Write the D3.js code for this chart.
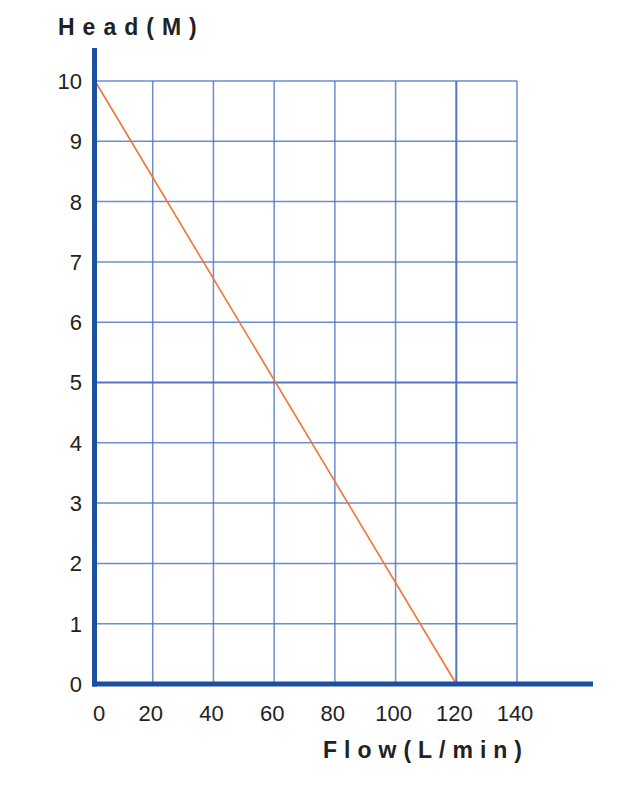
<!DOCTYPE html>
<html>
<head>
<meta charset="utf-8">
<script src="https://cdn.jsdelivr.net/npm/d3@7"></script>
<style>
  body { margin: 0; background: #fff; }
  text { font-family: "Liberation Sans", Arial, sans-serif; fill: #222; }
</style>
</head>
<body>
<div id="chart"></div>
<script>
// Pump curve data
const flowValues = [0, 120];
const headValues = [10, 0];
const xTicks = [0, 20, 40, 60, 80, 100, 120, 140];
const yTicks = [0, 1, 2, 3, 4, 5, 6, 7, 8, 9, 10];
const xTitle = "Flow(L/min)";
const yTitle = "Head(M)";

const width = 638, height = 793;

const svg = d3.select("#chart")
    .append("svg")
    .attr("width", width)
    .attr("height", height);

// Scales
const x = d3.scaleLinear().domain([0, 140]).range([92, 517]);
const y = d3.scaleLinear().domain([0, 10]).range([684, 81]);

// Grid lines
svg.selectAll(".hgrid")
    .data(yTicks.filter(d => d > 0))
    .join("line")
    .attr("class", "hgrid")
    .attr("x1", x(0))
    .attr("x2", x(140))
    .attr("y1", d => y(d))
    .attr("y2", d => y(d))
    .attr("stroke", "#4670c4")
    .attr("stroke-opacity", d => d === 5 ? 0.95 : 0.8)
    .attr("stroke-width", d => d === 5 ? 2 : 1.5);

svg.selectAll(".vgrid")
    .data(xTicks.filter(d => d > 0))
    .join("line")
    .attr("class", "vgrid")
    .attr("x1", d => x(d))
    .attr("x2", d => x(d))
    .attr("y1", y(0))
    .attr("y2", y(10))
    .attr("stroke", "#4670c4")
    .attr("stroke-opacity", d => d === 120 ? 0.95 : 0.8)
    .attr("stroke-width", d => d === 120 ? 2 : 1.5);

// Curve
const line = d3.line()
    .x(d => x(d[0]) + (d[0] === 0 ? 3 : 0))
    .y(d => y(d[1]));

svg.append("path")
    .datum(flowValues.map((f, i) => [f, headValues[i]]))
    .attr("d", line)
    .attr("fill", "none")
    .attr("stroke", "#f37434")
    .attr("stroke-width", 1.6);

// Axis lines
svg.append("line")
    .attr("x1", x(0) + 2.5)
    .attr("x2", x(0) + 2.5)
    .attr("y1", 48)
    .attr("y2", y(0) + 2.5)
    .attr("stroke", "#1c4f9e")
    .attr("stroke-width", 5);

svg.append("line")
    .attr("x1", x(0))
    .attr("x2", 593)
    .attr("y1", y(0))
    .attr("y2", y(0))
    .attr("stroke", "#1c4f9e")
    .attr("stroke-width", 5);

// Tick labels
svg.selectAll(".ylab")
    .data(yTicks)
    .join("text")
    .attr("class", "ylab")
    .attr("x", 82)
    .attr("y", d => y(d))
    .attr("dy", "0.36em")
    .attr("text-anchor", "end")
    .attr("font-size", 22)
    .text(d => d);

svg.selectAll(".xlab")
    .data(xTicks)
    .join("text")
    .attr("class", "xlab")
    .attr("x", d => x(d) + (d === 0 ? 7 : -2))
    .attr("y", 721)
    .attr("text-anchor", "middle")
    .attr("font-size", 22)
    .text(d => d);

// Titles
svg.append("text")
    .attr("x", 58)
    .attr("y", 35)
    .attr("font-size", 23)
    .attr("font-weight", "bold")
    .attr("letter-spacing", 8)
    .text(yTitle);

svg.append("text")
    .attr("x", 323)
    .attr("y", 758)
    .attr("font-size", 23)
    .attr("font-weight", "bold")
    .attr("letter-spacing", 7)
    .text(xTitle);
</script>
</body>
</html>
